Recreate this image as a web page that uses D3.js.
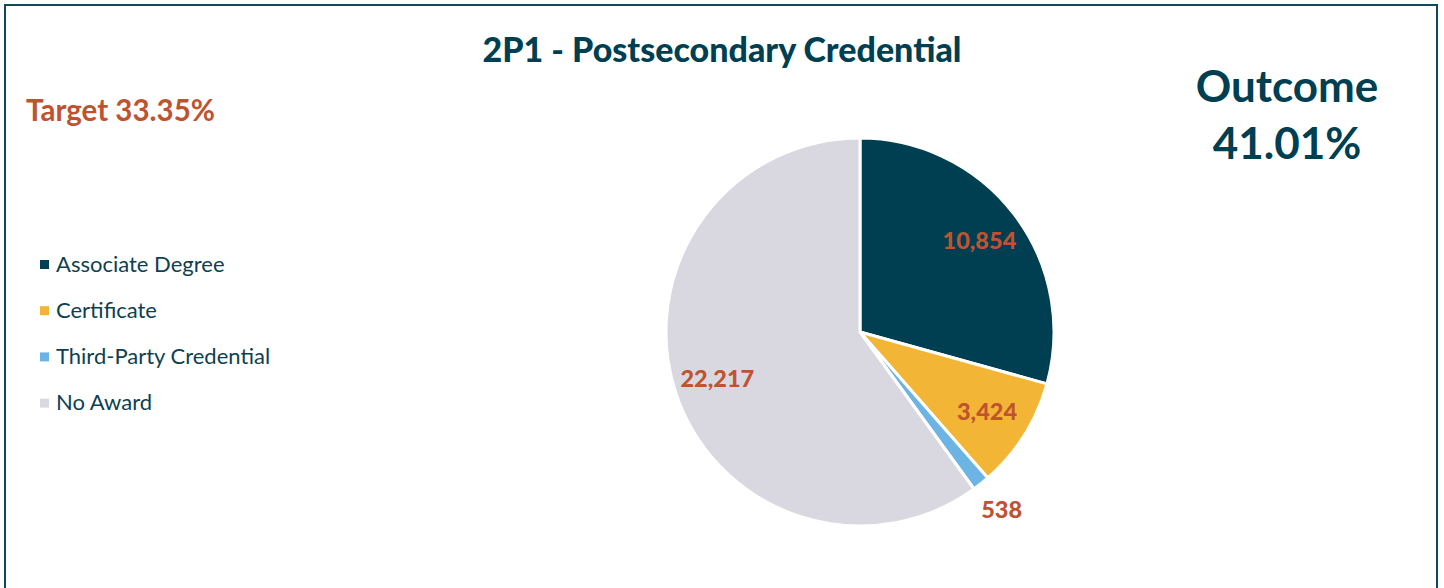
<!DOCTYPE html>
<html>
<head>
<meta charset="utf-8">
<script src="https://cdn.jsdelivr.net/npm/d3@7"></script>
<style>
  html, body { margin: 0; padding: 0; background: #fff; }
  svg { display: block; font-family: Lato, "Open Sans", sans-serif; }
</style>
</head>
<body>
<svg id="chart" width="1444" height="588"></svg>
<script>
// chart data
var categories = ["Associate Degree", "Certificate", "Third-Party Credential", "No Award"]
var counts = [10854, 3424, 538, 22217]
var labelText = ["10,854", "3,424", "538", "22,217"]
var colors = ["#003F52", "#F2B535", "#6CB4E4", "#D9D8E0"]
var outsideLabel = [false, false, true, false]

var titleText = "2P1 - Postsecondary Credential"
var targetText = "Target 33.35%"
var outcomeLines = ["Outcome", "41.01%"]

var svg = d3.select("#chart")

// frame
svg.append("rect").attr("x", 5).attr("y", 5).attr("width", 1432).attr("height", 590)
  .attr("fill", "none").attr("stroke", "#0E4A5C").attr("stroke-width", 2)

svg.append("text").text(titleText).attr("x", 722).attr("y", 62)
  .attr("text-anchor", "middle").attr("font-size", 34).attr("font-weight", "900").attr("fill", "#003F52")

svg.append("text").text(targetText).attr("x", 26).attr("y", 121)
  .attr("font-size", 29.5).attr("font-weight", "bold").attr("fill", "#C0532F")

svg.selectAll("text.outcome").data(outcomeLines).enter().append("text").attr("class", "outcome")
  .text(function(d){ return d }).attr("x", 1287).attr("y", function(d,i){ return 102 + i*57 })
  .attr("text-anchor", "middle").attr("font-size", 44).attr("font-weight", "bold").attr("fill", "#003F52")

// pie
var cx = 860, cy = 332, radius = 194
var pie = d3.pie().sort(null).value(function(d){ return d })
var arcs = pie(counts)
var arc = d3.arc().innerRadius(0).outerRadius(radius)
var inLabelArc = d3.arc().innerRadius(150).outerRadius(150)
var outLabelArc = d3.arc().innerRadius(227).outerRadius(227)

var g = svg.append("g").attr("transform", "translate(" + cx + "," + cy + ")")
g.selectAll("path").data(arcs).enter().append("path")
  .attr("d", arc).attr("fill", function(d,i){ return colors[i] })
  .attr("stroke", "#fff").attr("stroke-width", 3).attr("stroke-linejoin", "round")

g.selectAll("text").data(arcs).enter().append("text")
  .text(function(d,i){ return labelText[i] })
  .attr("transform", function(d,i){
    var c = outsideLabel[i] ? outLabelArc.centroid(d) : inLabelArc.centroid(d)
    return "translate(" + c[0] + "," + c[1] + ")"
  })
  .attr("text-anchor", "middle").attr("dy", "0.35em")
  .attr("font-size", 23.5).attr("font-weight", "900").attr("fill", "#C0532F")

// legend
var legend = svg.selectAll("g.legend").data(categories).enter().append("g").attr("class", "legend")
  .attr("transform", function(d,i){ return "translate(40," + (264 + i*46.2) + ")" })
legend.append("rect").attr("x", 0).attr("y", -4).attr("width", 9).attr("height", 9)
  .attr("fill", function(d,i){ return colors[i] })
legend.append("text").text(function(d){ return d }).attr("x", 16).attr("y", 0).attr("dy", "0.35em")
  .attr("font-size", 22).attr("fill", "#0E3F50")
</script>
</body>
</html>
